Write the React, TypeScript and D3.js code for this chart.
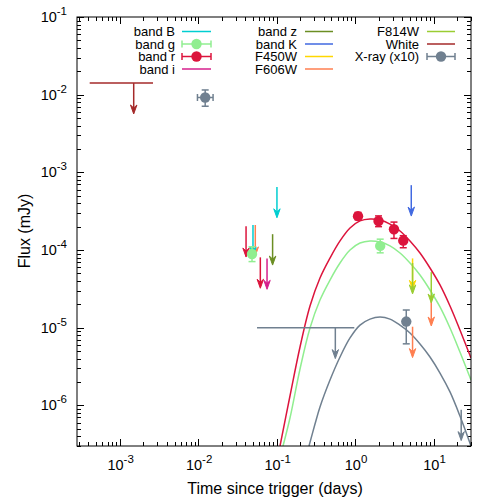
import React from "react";
import * as d3 from "d3";

// plot frame (pixels)
const W = 500;
const H = 500;
const L = 77;
const R = 471;
const T = 17;
const B = 446;

const xTicks = [1e-3, 1e-2, 1e-1, 1, 10];
const xTickExp = ["-3", "-2", "-1", "0", "1"];
const yTicks = [1e-1, 1e-2, 1e-3, 1e-4, 1e-5, 1e-6];
const yTickExp = ["-1", "-2", "-3", "-4", "-5", "-6"];

// detections
const rT = [1.09, 1.99, 3.13, 4.11];
const rF = [2.73e-4, 2.36e-4, 1.85e-4, 1.32e-4];
const rLo = [2.45e-4, 2.0e-4, 1.41e-4, 1.07e-4];
const rHi = [3.05e-4, 2.75e-4, 2.29e-4, 1.53e-4];

const gT = [0.0486, 2.09];
const gF = [8.9e-5, 1.13e-4];
const gLo = [7.1e-5, 9.2e-5];
const gHi = [1.1e-4, 1.38e-4];

const xrT = [0.0123, 4.49];
const xrF = [9.2e-3, 1.2e-5];
const xrLo = [7.1e-3, 6.2e-6];
const xrHi = [0.0115, 1.69e-5];
const xrTLo = [0.0098, null];
const xrTHi = [0.0155, null];

// upper limits: [t, flux, tLo?, tHi?]
const limB = [[0.101, 6.5e-4], [0.05, 2.1e-4]];
const limR = [[0.0408, 2.03e-4], [0.062, 8.05e-5]];
const limI = [[0.0755, 7.8e-5]];
const limZ = [[0.0889, 1.6e-4]];
const limK = [[5.2, 6.84e-4]];
const lim450 = [[5.4, 7.8e-5]];
const lim606 = [[0.0535, 2.1e-4], [9.35, 2.63e-5], [5.4, 1.03e-5]];
const lim814 = [[5.4, 6.8e-5], [9.35, 5.2e-5]];
const limWhite = [[1.51e-3, 0.0141, 4.15e-4, 2.66e-3]];
const limXray = [[0.56, 1.0e-5, 0.0563, 0.977], [22.5, 8.8e-7]];

// model curves
const rModT = [0.1105, 0.148, 0.1987, 0.2664, 0.357, 0.479, 0.6426, 0.8616, 1.155, 1.549, 2.078, 2.786, 3.737, 5.01, 6.72, 9.01, 12.08, 16.2, 21.7, 30.0];
const rModF = [3.0e-7, 1.32e-6, 5.65e-6, 1.9e-5, 4.36e-5, 7.89e-5, 1.31e-4, 1.92e-4, 2.37e-4, 2.51e-4, 2.44e-4, 2.16e-4, 1.76e-4, 1.31e-4, 9.16e-5, 5.87e-5, 3.55e-5, 1.9e-5, 9.33e-6, 4.07e-6];
const gModT = [0.1207, 0.148, 0.1987, 0.2664, 0.357, 0.479, 0.6426, 0.8616, 1.155, 1.549, 2.078, 2.786, 3.737, 5.01, 6.72, 9.01, 12.08, 16.2, 21.7, 30.0];
const gModF = [3.0e-7, 6.88e-7, 2.94e-6, 9.91e-6, 2.27e-5, 4.11e-5, 6.81e-5, 1.0e-4, 1.23e-4, 1.31e-4, 1.27e-4, 1.13e-4, 9.16e-5, 6.81e-5, 4.77e-5, 3.06e-5, 1.85e-5, 9.91e-6, 4.86e-6, 2.12e-6];
const xModT = [0.2587, 0.3085, 0.357, 0.479, 0.6426, 0.8616, 1.155, 1.549, 2.078, 2.786, 3.737, 5.01, 6.72, 9.01, 12.08, 16.2, 21.7, 30.0];
const xModF = [3.0e-7, 5.75e-7, 9.53e-7, 2.12e-6, 4.2e-6, 7.38e-6, 1.08e-5, 1.29e-5, 1.37e-5, 1.29e-5, 1.08e-5, 8.55e-6, 6.17e-6, 4.2e-6, 2.61e-6, 1.49e-6, 7.3e-7, 3.0e-7];

const C = {
  B: "#00ced1",
  g: "#90ee90",
  r: "#dc143c",
  i: "#d61f8c",
  z: "#6b8e23",
  K: "#4169e1",
  f450: "#ffd700",
  f606: "#ff7f50",
  f814: "#9acd32",
  white: "#a52a2a",
  xray: "#708090",
};

const font = "'Liberation Sans', Arial, Helvetica, sans-serif";

const x = d3.scaleLog().domain([2.86e-4, 30]).range([L, R]);
const y = d3.scaleLog().domain([3e-7, 0.1]).range([B, T]);

function curvePath(ts: number[], fs: number[]) {
  return d3
    .line<number>()
    .x((d, i) => x(ts[i]))
    .y((d, i) => y(fs[i]))
    .curve(d3.curveCatmullRom.alpha(0.5))(ts) as string;
}

function Arrow({ lim, color }: { lim: any; color: string }) {
  const [t, f, tLo, tHi] = lim;
  const px = x(t);
  const y1 = y(f);
  const y2 = y(f * 0.4);
  return (
    <g stroke={color} strokeWidth={1.5} fill={color}>
      {tLo != null && <line x1={x(tLo)} x2={x(tHi)} y1={y1} y2={y1} />}
      <line x1={px} x2={px} y1={y1} y2={y2 - 2} />
      <path
        d={`M${px},${y2} L${px - 3.2},${y2 - 9} L${px},${y2 - 6} L${px + 3.2},${y2 - 9} Z`}
        strokeWidth={1}
      />
    </g>
  );
}

function ErrPoint({ t, f, lo, hi, tLo, tHi, color }: any) {
  const px = x(t);
  const py = y(f);
  const cap = 3.5;
  return (
    <g stroke={color} strokeWidth={1.5}>
      <line x1={px} x2={px} y1={y(lo)} y2={y(hi)} />
      <line x1={px - cap} x2={px + cap} y1={y(lo)} y2={y(lo)} />
      <line x1={px - cap} x2={px + cap} y1={y(hi)} y2={y(hi)} />
      {tLo != null && (
        <>
          <line x1={x(tLo)} x2={x(tHi)} y1={py} y2={py} />
          <line x1={x(tLo)} x2={x(tLo)} y1={py - cap} y2={py + cap} />
          <line x1={x(tHi)} x2={x(tHi)} y1={py - cap} y2={py + cap} />
        </>
      )}
      <circle cx={px} cy={py} r={5.2} fill={color} stroke="none" />
    </g>
  );
}

const legendCols = [
  { right: 175, x1: 182, x2: 211 },
  { right: 297, x1: 305, x2: 333 },
  { right: 419, x1: 427, x2: 455 },
];
const legendRows = [31.5, 44, 56.5, 69];
const legendItems = [
  { label: "band B", color: C.B, col: 0, row: 0, pt: false },
  { label: "band g", color: C.g, col: 0, row: 1, pt: true },
  { label: "band r", color: C.r, col: 0, row: 2, pt: true },
  { label: "band i", color: C.i, col: 0, row: 3, pt: false },
  { label: "band z", color: C.z, col: 1, row: 0, pt: false },
  { label: "band K", color: C.K, col: 1, row: 1, pt: false },
  { label: "F450W", color: C.f450, col: 1, row: 2, pt: false },
  { label: "F606W", color: C.f606, col: 1, row: 3, pt: false },
  { label: "F814W", color: C.f814, col: 2, row: 0, pt: false },
  { label: "White", color: C.white, col: 2, row: 1, pt: false },
  { label: "X-ray (x10)", color: C.xray, col: 2, row: 2, pt: true },
];

function logTicks(domain: number[]) {
  const out: { v: number; major: boolean }[] = [];
  for (let e = -8; e <= 2; e++) {
    for (let k = 1; k <= 9; k++) {
      const v = k * Math.pow(10, e);
      if (v >= domain[0] * 0.999 && v <= domain[1] * 1.001) out.push({ v, major: k === 1 });
    }
  }
  return out;
}

export default function App() {
  const xt = logTicks(x.domain());
  const yt = logTicks(y.domain());
  return (
    <svg
      width={W}
      height={H}
      style={{ position: "absolute", left: 0, top: 0, background: "#fff" }}
      fontFamily={font}
    >
      <defs>
        <clipPath id="plot">
          <rect x={L} y={T} width={R - L} height={B - T} />
        </clipPath>
      </defs>
      <rect width={W} height={H} fill="#fff" />

      {/* ticks on all four sides, pointing in */}
      <g stroke="#000" strokeWidth={1}>
        {xt.map((d, i) => {
          const px = Math.round(x(d.v)) + 0.5;
          const len = d.major ? 7 : 4;
          return (
            <g key={"x" + i}>
              <line x1={px} x2={px} y1={B} y2={B - len} />
              <line x1={px} x2={px} y1={T} y2={T + len} />
            </g>
          );
        })}
        {yt.map((d, i) => {
          const py = Math.round(y(d.v)) + 0.5;
          const len = d.major ? 7 : 4;
          return (
            <g key={"y" + i}>
              <line x1={L} x2={L + len} y1={py} y2={py} />
              <line x1={R} x2={R - len} y1={py} y2={py} />
            </g>
          );
        })}
      </g>

      {/* tick labels */}
      <g fontSize={14.5} fill="#000">
        {xTicks.map((v, i) => (
          <text key={"xl" + i} x={x(v) + 1} y={469.5} textAnchor="middle">
            10<tspan dy={-7} fontSize={11.5}>{xTickExp[i]}</tspan>
          </text>
        ))}
        {yTicks.map((v, i) => (
          <text key={"yl" + i} x={67} y={y(v) + 5} textAnchor="end">
            10<tspan dy={-7} fontSize={11.5}>{yTickExp[i]}</tspan>
          </text>
        ))}
      </g>
      <g fontSize={16} fill="#000">
        <text x={275} y={494} textAnchor="middle">
          Time since trigger (days)
        </text>
        <text transform={`translate(30,231) rotate(-90)`} textAnchor="middle">
          Flux (mJy)
        </text>
      </g>

      <g clipPath="url(#plot)" fill="none" strokeWidth={1.5}>
        <path d={curvePath(xModT, xModF)} stroke={C.xray} />
        <path d={curvePath(gModT, gModF)} stroke={C.g} />
        <path d={curvePath(rModT, rModF)} stroke={C.r} />
      </g>

      {/* upper limits */}
      {limWhite.map((d, i) => <Arrow key={"w" + i} lim={d} color={C.white} />)}
      {limXray.map((d, i) => <Arrow key={"xa" + i} lim={d} color={C.xray} />)}
      {lim606.map((d, i) => <Arrow key={"606" + i} lim={d} color={C.f606} />)}
      {limB.map((d, i) => <Arrow key={"b" + i} lim={d} color={C.B} />)}
      {limR.map((d, i) => <Arrow key={"r" + i} lim={d} color={C.r} />)}
      {limI.map((d, i) => <Arrow key={"i" + i} lim={d} color={C.i} />)}
      {limZ.map((d, i) => <Arrow key={"z" + i} lim={d} color={C.z} />)}
      {limK.map((d, i) => <Arrow key={"k" + i} lim={d} color={C.K} />)}
      {lim450.map((d, i) => <Arrow key={"450" + i} lim={d} color={C.f450} />)}
      {lim814.map((d, i) => <Arrow key={"814" + i} lim={d} color={C.f814} />)}

      {/* detections */}
      {gT.map((t, i) => (
        <ErrPoint key={"g" + i} t={t} f={gF[i]} lo={gLo[i]} hi={gHi[i]} color={C.g} />
      ))}
      {rT.map((t, i) => (
        <ErrPoint key={"rp" + i} t={t} f={rF[i]} lo={rLo[i]} hi={rHi[i]} color={C.r} />
      ))}
      {xrT.map((t, i) => (
        <ErrPoint
          key={"xp" + i}
          t={t}
          f={xrF[i]}
          lo={xrLo[i]}
          hi={xrHi[i]}
          tLo={xrTLo[i]}
          tHi={xrTHi[i]}
          color={C.xray}
        />
      ))}

      {/* legend */}
      <g fontSize={13}>
        {legendItems.map((d, i) => {
          const c = legendCols[d.col];
          const ry = legendRows[d.row];
          return (
            <g key={"lg" + i}>
              <text x={c.right} y={ry + 4.5} textAnchor="end">
                {d.label}
              </text>
              <g stroke={d.color} strokeWidth={1.5}>
                <line x1={c.x1} x2={c.x2} y1={ry} y2={ry} />
                {d.pt && (
                  <>
                    <line x1={c.x1} x2={c.x1} y1={ry - 3.5} y2={ry + 3.5} />
                    <line x1={c.x2} x2={c.x2} y1={ry - 3.5} y2={ry + 3.5} />
                    <circle cx={(c.x1 + c.x2) / 2} cy={ry} r={5.2} fill={d.color} stroke="none" />
                  </>
                )}
              </g>
            </g>
          );
        })}
      </g>

      <rect x={L} y={T} width={R - L} height={B - T} fill="none" stroke="#000" strokeWidth={1} />
    </svg>
  );
}
